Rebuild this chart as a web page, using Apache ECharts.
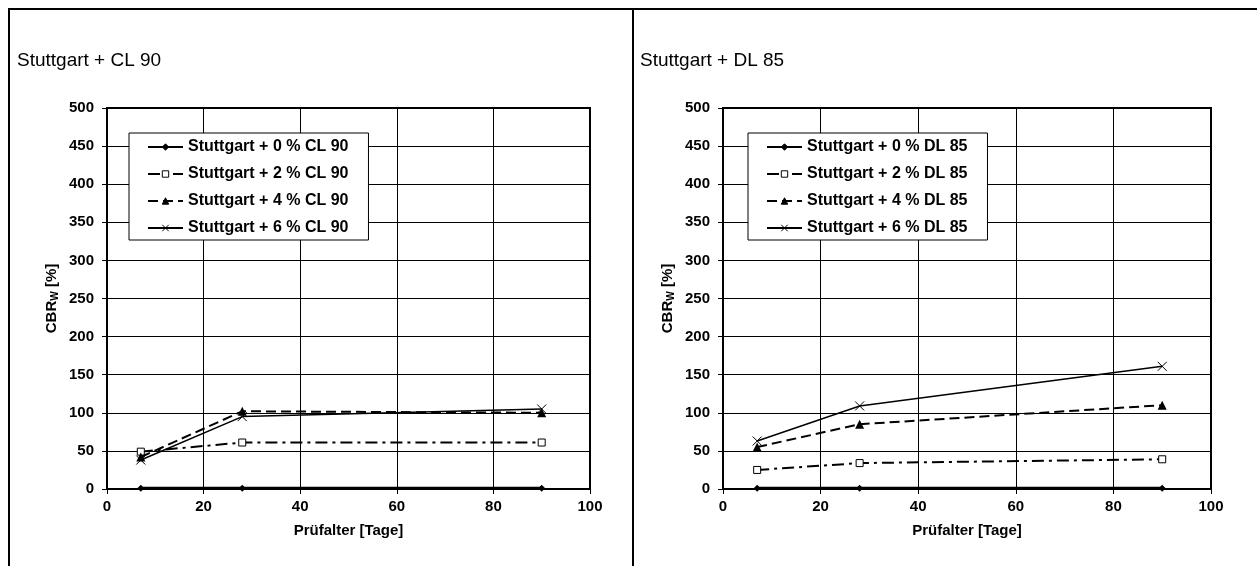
<!DOCTYPE html>
<html>
<head>
<meta charset="utf-8">
<script src="https://cdn.jsdelivr.net/npm/echarts@6/dist/echarts.min.js"></script>
<style>
  html, body { margin: 0; padding: 0; background: #fff; }
  #chart { width: 1257px; height: 566px; }
</style>
</head>
<body>
<div id="chart"></div>
<script>
// Test ages in days
const days = [7, 28, 90];

// CBR_W values [%] for Stuttgart soil with CL 90 binder
const cl90_0 = [1, 1, 1];
const cl90_2 = [49, 61, 61];
const cl90_4 = [42, 102, 100];
const cl90_6 = [38, 95, 105];

// CBR_W values [%] for Stuttgart soil with DL 85 binder
const dl85_0 = [1, 1, 1];
const dl85_2 = [25, 34, 39];
const dl85_4 = [55, 85, 110];
const dl85_6 = [63, 109, 161];

const panelTitles = ['Stuttgart + CL 90', 'Stuttgart + DL 85'];
const seriesNamesCL = ['Stuttgart + 0 % CL 90', 'Stuttgart + 2 % CL 90', 'Stuttgart + 4 % CL 90', 'Stuttgart + 6 % CL 90'];
const seriesNamesDL = ['Stuttgart + 0 % DL 85', 'Stuttgart + 2 % DL 85', 'Stuttgart + 4 % DL 85', 'Stuttgart + 6 % DL 85'];
const xAxisTitle = 'Prüfalter [Tage]';

const FONT = 'Arial, "Liberation Sans", Helvetica, sans-serif';
const BLACK = '#000';
const CROSS = 'path://M0,0L10,10M10,0L0,10';

const styles = [
  { symbol: 'diamond', symbolSize: 7, line: { width: 3, type: 'solid' }, item: { color: BLACK, borderColor: BLACK, borderWidth: 0 } },
  { symbol: 'rect', symbolSize: 7, line: { width: 2, type: [12, 5, 3, 5] }, item: { color: '#fff', borderColor: BLACK, borderWidth: 1 } },
  { symbol: 'triangle', symbolSize: 9, line: { width: 2, type: [10, 5] }, item: { color: BLACK, borderColor: BLACK, borderWidth: 0 } },
  { symbol: CROSS, symbolSize: 9, line: { width: 1.5, type: 'solid' }, item: { color: 'none', borderColor: BLACK, borderWidth: 1 } }
];

function toPairs(vals) {
  return days.map((d, i) => [d, vals[i]]);
}

function makeSeries(names, valueSets, axisIndex) {
  return names.map((name, k) => ({
    name: name,
    type: 'line',
    xAxisIndex: axisIndex,
    yAxisIndex: axisIndex,
    data: toPairs(valueSets[k]),
    symbol: styles[k].symbol,
    symbolSize: styles[k].symbolSize,
    showAllSymbol: true,
    lineStyle: Object.assign({ color: BLACK }, styles[k].line),
    itemStyle: Object.assign({}, styles[k].item),
    emphasis: { disabled: true },
    animation: false,
    // dashed 4 % line sits on top of the solid 6 % line
    z: k === 2 ? 5 : (k === 3 ? 4 : 3 + k * 0.1)
  }));
}

const grids = [
  { left: 107, top: 108, width: 483, height: 381 },
  { left: 723, top: 108, width: 488, height: 381 }
];

function xAxis(i) {
  return {
    type: 'value', gridIndex: i, min: 0, max: 100, interval: 20,
    name: xAxisTitle, nameLocation: 'middle', nameGap: 34,
    nameTextStyle: { fontFamily: FONT, fontWeight: 'bold', fontSize: 15, color: BLACK },
    axisLine: { show: true, onZero: false, lineStyle: { color: BLACK, width: 2 } },
    axisTick: { show: true, inside: false, length: 5, lineStyle: { color: BLACK, width: 1 } },
    axisLabel: { margin: 10, fontFamily: FONT, fontWeight: 'bold', fontSize: 15, color: BLACK },
    splitLine: { show: true, lineStyle: { color: BLACK, width: 1 } }
  };
}

function yAxis(i) {
  return {
    type: 'value', gridIndex: i, min: 0, max: 500, interval: 50,
    name: '{a|CBR}{b|W}{a| [%]}', nameLocation: 'middle', nameGap: 47, nameRotate: 90,
    nameTextStyle: {
      rich: {
        a: { fontFamily: FONT, fontWeight: 'bold', fontSize: 15, color: BLACK },
        b: { fontFamily: FONT, fontWeight: 'bold', fontSize: 10, color: BLACK, verticalAlign: 'bottom', padding: [7, 0, 0, 0] }
      }
    },
    axisLine: { show: true, lineStyle: { color: BLACK, width: 2 } },
    axisTick: { show: true, inside: false, length: 5, lineStyle: { color: BLACK, width: 1 } },
    axisLabel: { margin: 13, fontFamily: FONT, fontWeight: 'bold', fontSize: 15, color: BLACK },
    splitLine: { show: true, lineStyle: { color: BLACK, width: 1 } }
  };
}

function legend(names, left) {
  return {
    data: names,
    orient: 'vertical',
    left: left, top: 133,
    padding: [5, 20, 3, 18],
    itemWidth: 35, itemHeight: 8, itemGap: 9,
    backgroundColor: '#fff',
    borderColor: BLACK, borderWidth: 1, borderRadius: 0,
    textStyle: { fontFamily: FONT, fontWeight: 'bold', fontSize: 16, color: BLACK, lineHeight: 18 },
    itemStyle: { borderWidth: 1 },
    selectedMode: false,
    inactiveColor: BLACK
  };
}

const chart = echarts.init(document.getElementById('chart'), null, { renderer: 'canvas' });

chart.setOption({
  animation: false,
  backgroundColor: '#fff',
  title: [
    { text: panelTitles[0], left: 12, top: 46, textStyle: { fontFamily: FONT, fontWeight: 'normal', fontSize: 19, color: BLACK } },
    { text: panelTitles[1], left: 635, top: 46, textStyle: { fontFamily: FONT, fontWeight: 'normal', fontSize: 19, color: BLACK } }
  ],
  grid: grids.map(g => Object.assign({ show: true, borderColor: BLACK, borderWidth: 2, backgroundColor: 'transparent' }, g)),
  xAxis: [xAxis(0), xAxis(1)],
  yAxis: [yAxis(0), yAxis(1)],
  legend: [legend(seriesNamesCL, 129), legend(seriesNamesDL, 748)],
  series: makeSeries(seriesNamesCL, [cl90_0, cl90_2, cl90_4, cl90_6], 0)
    .concat(makeSeries(seriesNamesDL, [dl85_0, dl85_2, dl85_4, dl85_6], 1)),
  graphic: [
    // outer frame of the two panels
    { type: 'line', shape: { x1: 8, y1: 9, x2: 1257, y2: 9 }, style: { stroke: BLACK, lineWidth: 2 }, silent: true },
    { type: 'line', shape: { x1: 9, y1: 8, x2: 9, y2: 566 }, style: { stroke: BLACK, lineWidth: 2 }, silent: true },
    { type: 'line', shape: { x1: 633, y1: 8, x2: 633, y2: 566 }, style: { stroke: BLACK, lineWidth: 2 }, silent: true }
  ]
});
</script>
</body>
</html>
